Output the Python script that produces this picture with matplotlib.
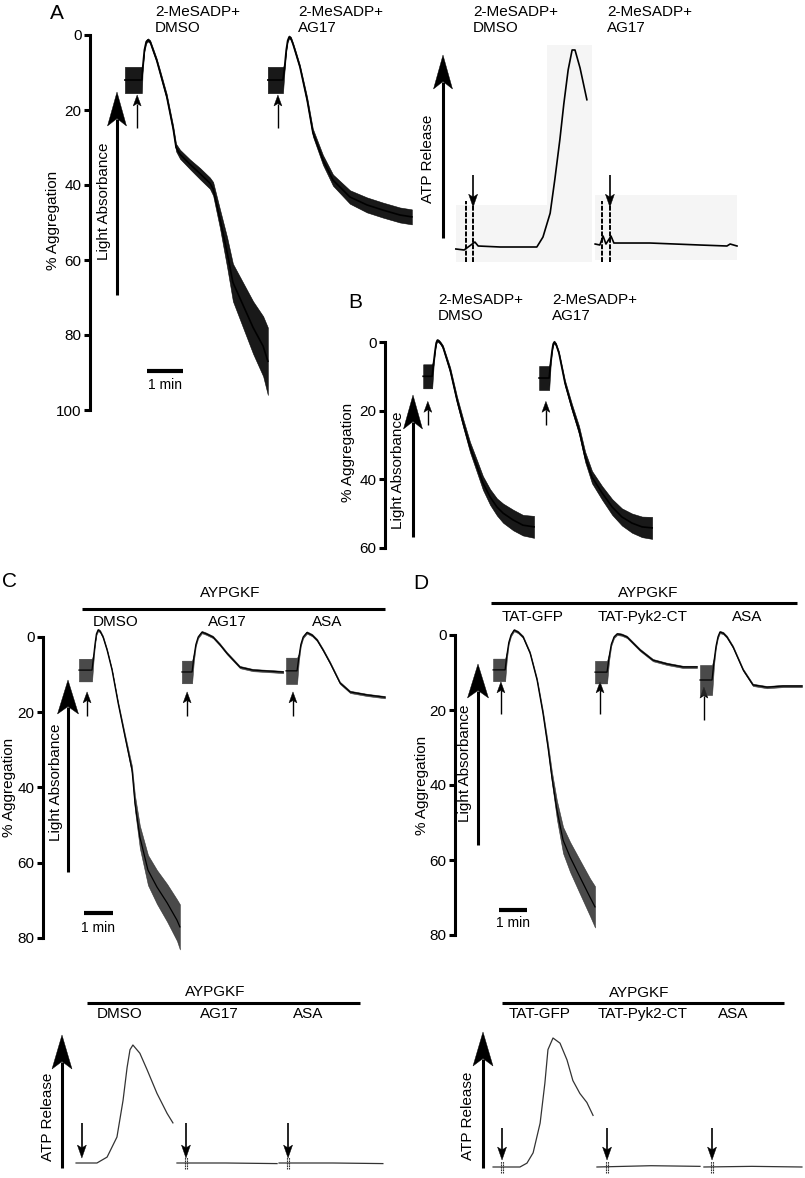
import numpy as np
import matplotlib
matplotlib.use("Agg")
import matplotlib.pyplot as plt
from matplotlib.patches import Polygon, Rectangle

plt.rcParams["font.family"] = ["Liberation Sans", "DejaVu Sans"]

W, H = 805, 1178
FS = 11

# ---------------- aggregation traces: time (min), % aggregation, noise half width ----------------
a_dmso_t = [0.97, 1.19, 1.44, 1.46, 1.51, 1.56, 1.61, 1.67, 1.75, 1.85, 1.94, 2.13, 2.31, 2.39,
            2.50, 2.78, 3.06, 3.33, 3.42, 3.61, 3.81, 3.97, 4.25, 4.53, 4.81, 4.94]
a_dmso_y = [12, 12, 12, 9, 4, 1.8, 1.3, 1.8, 4, 6.7, 9.8, 16.4, 25, 30, 31.8, 34.5, 37, 39.5,
            41, 49, 58, 66, 72, 78, 83, 87]
a_dmso_n = [3.5, 3.5, 3.5, 1.0, 0.5, 0.4, 0.4, 0.4, 0.5, 0.5, 0.6, 0.7, 0.8, 1.0, 1.2, 1.3, 1.5,
            1.5, 1.8, 2.5, 4, 5, 6, 7, 8, 9]
a_ag17_t = [4.94, 5.15, 5.36, 5.40, 5.45, 5.49, 5.53, 5.58, 5.64, 5.72, 5.83, 6.03, 6.19, 6.47,
            6.75, 7.22, 7.69, 8.14, 8.61, 8.94]
a_ag17_y = [12, 12, 12, 9, 4, 1.5, 0.5, 0.9, 2.5, 5, 8.5, 17.3, 26, 33.3, 38.7, 43.2, 45.3,
            46.7, 48, 48.5]
a_ag17_n = [3.5, 3.5, 3.5, 1.0, 0.5, 0.4, 0.4, 0.4, 0.4, 0.5, 0.5, 0.8, 1.0, 1.3, 1.5, 1.8, 2.0,
            2.0, 2.0, 2.0]
a_add = [1.31, 5.22]

b_dmso_t = [1.06, 1.19, 1.31, 1.35, 1.39, 1.42, 1.45, 1.50, 1.56, 1.61, 1.81, 2.0, 2.17, 2.36,
            2.56, 2.72, 2.92, 3.11, 3.28, 3.56, 3.83, 4.14]
b_dmso_y = [10, 10, 10, 6, 2.5, 0.3, -0.5, -0.2, 0.6, 1.5, 8.2, 16.9, 23.6, 30.6, 36.4, 41.1,
            45.2, 48.1, 49.9, 51.9, 53.4, 53.9]
b_dmso_n = [3.5, 3.5, 3.5, 1, 0.5, 0.4, 0.4, 0.4, 0.4, 0.5, 0.8, 1.0, 1.2, 1.5, 1.8, 2.0, 2.3,
            2.5, 2.8, 3.0, 3.0, 3.2]
b_ag17_t = [4.28, 4.42, 4.56, 4.60, 4.64, 4.67, 4.70, 4.75, 4.83, 5.0, 5.19, 5.39, 5.56, 5.75,
            6.03, 6.31, 6.58, 6.86, 7.14, 7.42]
b_ag17_y = [10.5, 10.5, 10.5, 6, 2.5, 0.6, 0, 0.7, 3.2, 12, 19, 25.7, 33.5, 39.4, 44, 48.1, 51,
            52.8, 53.9, 54.2]
b_ag17_n = [3.5, 3.5, 3.5, 1, 0.5, 0.4, 0.4, 0.4, 0.5, 0.8, 1.0, 1.2, 1.5, 1.8, 2.0, 2.3, 2.5,
            2.8, 3.0, 3.2]
b_add = [1.19, 4.47]

c_dmso_t = [1.24, 1.45, 1.69, 1.74, 1.79, 1.84, 1.90, 1.97, 2.07, 2.21, 2.38, 2.59, 2.83, 3.07,
            3.17, 3.34, 3.62, 3.93, 4.28, 4.62, 4.72]
c_dmso_y = [8.8, 8.8, 8.8, 5.5, 2, -0.8, -1.9, -1.5, 0, 3.5, 8.8, 17.6, 26.6, 35.4, 44.1, 53.2,
            62, 66.5, 70.7, 75.3, 77.1]
c_dmso_n = [3, 3, 3, 1, 0.4, 0.3, 0.3, 0.3, 0.3, 0.3, 0.3, 0.4, 0.6, 1.0, 2.0, 3.0, 4.0, 4.5,
            5, 5.5, 6]
c_ag17_t = [4.79, 4.97, 5.14, 5.20, 5.27, 5.35, 5.48, 5.62, 5.86, 6.10, 6.34, 6.79, 7.24, 8.28]
c_ag17_y = [9.3, 9.3, 9.3, 5.5, 2, 0, -1.3, -0.9, 0, 2.0, 4.3, 8, 8.8, 9.3]
c_ag17_n = [3, 3, 3, 1, 0.4, 0.3, 0.3, 0.3, 0.3, 0.3, 0.3, 0.3, 0.3, 0.3]
c_asa_t = [8.38, 8.57, 8.76, 8.82, 8.89, 8.97, 9.10, 9.28, 9.45, 9.66, 9.90, 10.24, 10.59,
           11.17, 11.79]
c_asa_y = [9, 9, 9, 5.5, 2, 0, -1.2, -0.5, 0.8, 3.5, 6.9, 12.2, 14.6, 15.4, 16]
c_asa_n = [3.5, 3.5, 3.5, 1, 0.4, 0.3, 0.3, 0.3, 0.3, 0.3, 0.3, 0.3, 0.3, 0.3, 0.3]
c_add = [1.52, 4.97, 8.62]

d_gfp_t = [1.36, 1.57, 1.79, 1.85, 1.92, 2.0, 2.11, 2.25, 2.43, 2.68, 2.93, 3.14, 3.32, 3.46,
           3.64, 3.86, 4.11, 4.46, 4.82, 5.0]
d_gfp_y = [9.3, 9.3, 9.3, 5.5, 2, 0, -1.3, -0.8, 0.5, 4.8, 12, 20.8, 29.9, 37.9, 46.7, 54.7,
           59.2, 64.5, 69.9, 72.5]
d_gfp_n = [3, 3, 3, 1, 0.4, 0.3, 0.3, 0.3, 0.3, 0.3, 0.4, 0.6, 1.0, 1.5, 2.5, 3.5, 4, 4.5, 5, 5.5]
d_pyk_t = [5.0, 5.21, 5.43, 5.50, 5.58, 5.68, 5.79, 5.95, 6.14, 6.61, 7.07, 7.57, 8.14, 8.64]
d_pyk_y = [9.9, 9.9, 9.9, 6, 2.5, 0.5, -0.3, -0.1, 0.5, 4, 6.7, 7.7, 8.5, 8.5]
d_pyk_n = [3, 3, 3, 1, 0.4, 0.3, 0.3, 0.3, 0.3, 0.3, 0.3, 0.3, 0.3, 0.3]
d_asa_t = [8.75, 8.96, 9.18, 9.25, 9.32, 9.39, 9.46, 9.58, 9.71, 9.93, 10.29, 10.64, 11.14,
           11.71, 12.39]
d_asa_y = [12, 12, 12, 7, 3, 0.5, -0.8, -0.5, 0.5, 3.2, 9.3, 13.3, 13.9, 13.6, 13.6]
d_asa_n = [4, 4, 4, 1, 0.4, 0.3, 0.3, 0.3, 0.3, 0.3, 0.3, 0.3, 0.3, 0.3, 0.3]
d_add = [1.64, 5.18, 8.89]

# ---------------- ATP release traces: time (min), release (a.u., peak = 100) ----------------
a_atp_dmso_t = [0.44, 0.67, 0.97, 1.06, 1.67, 2.69, 2.86, 3.06, 3.19, 3.33, 3.44, 3.56, 3.67,
                3.75, 3.89, 4.08]
a_atp_dmso_y = [-1, -1.5, 2.5, 0.5, 0, 0, 5, 17, 34, 54, 72, 89, 99, 99, 90, 74]
a_atp_ag17_t = [4.31, 4.44, 4.53, 4.61, 4.75, 4.83, 5.83, 7.22, 7.97, 8.06, 8.25]
a_atp_ag17_y = [1.5, 1, 5.5, 1.5, 5.5, 2, 2, 1, 0.5, 1.5, 0.5]
a_atp_spikes = [0.72, 0.92, 4.50, 4.72]
a_atp_add = [0.92, 4.72]

c_atp_dmso_t = [1.14, 1.86, 2.21, 2.55, 2.76, 2.90, 3.0, 3.10, 3.34, 3.59, 3.93, 4.28, 4.48]
c_atp_dmso_y = [0, 0, 5, 22, 53, 81, 96, 100, 93, 79, 59, 42, 34]
c_atp_ag17_t = [4.62, 6.3, 8.07]
c_atp_ag17_y = [0, 0, -0.5]
c_atp_asa_t = [8.14, 10.0, 11.72]
c_atp_asa_y = [0, 0, -0.5]
c_atp_add = [1.34, 4.93, 8.45]

d_atp_gfp_t = [1.36, 2.32, 2.57, 2.79, 3.04, 3.21, 3.32, 3.5, 3.75, 4.0, 4.21, 4.46, 4.71, 4.93]
d_atp_gfp_y = [0, 0, 3, 11, 34, 65, 91, 100, 96, 83, 67, 57, 50, 40]
d_atp_pyk_t = [5.07, 7.0, 8.75]
d_atp_pyk_y = [0, 1, 0.5]
d_atp_asa_t = [8.89, 10.6, 12.39]
d_atp_asa_y = [0, 0.5, 0]
d_atp_add = [1.68, 5.43, 9.18]


fig = plt.figure(figsize=(W / 100, H / 100), dpi=100)
ov = fig.add_axes([0, 0, 1, 1], zorder=0)
ov.set_xlim(0, W)
ov.set_ylim(H, 0)
ov.axis("off")


def make_panel(box, x0, y0, sx, sy, down=True):
    l, t, r, b = box
    ax = fig.add_axes([l / W, 1 - b / H, (r - l) / W, (b - t) / H], zorder=1)
    ax.patch.set_alpha(0)
    ax.set_xlim((l - x0) / sx, (r - x0) / sx)
    if down:
        ax.set_ylim((b - y0) / sy, (t - y0) / sy)
    else:
        ax.set_ylim((y0 - b) / sy, (y0 - t) / sy)
    return dict(ax=ax, x0=x0, y0=y0, sx=sx, sy=sy, down=down)


def to_px(p, t, v):
    x = p["x0"] + p["sx"] * t
    y = p["y0"] + p["sy"] * v if p["down"] else p["y0"] - p["sy"] * v
    return x, y


def agg_axis(p, ymax):
    ax = p["ax"]
    for s in ["top", "right", "bottom"]:
        ax.spines[s].set_visible(False)
    ax.spines["left"].set_position(("data", 0))
    ax.spines["left"].set_bounds(0, ymax)
    ax.spines["left"].set_linewidth(2.2)
    ax.spines["left"].set_capstyle("projecting")
    ax.set_xticks([])
    ax.set_yticks(range(0, ymax + 1, 20))
    ax.tick_params(axis="y", length=4.5, width=2.2, pad=1.5, labelsize=FS)


def trace(p, t, y, n, lw=1.0, band="k", alpha=0.9):
    t, y, n = np.array(t), np.array(y), np.array(n)
    p["ax"].fill_between(t, y - n, y + n, color=band, alpha=alpha, lw=0.4, clip_on=False)
    p["ax"].plot(t, y, color="k", lw=lw, clip_on=False)


def arrow(x, y_tail, y_tip, hl, hw, lw):
    d = np.sign(y_tip - y_tail)
    base = y_tip - d * hl
    notch = y_tip - d * hl * 0.78
    ov.plot([x, x], [y_tail, notch], color="k", lw=lw, solid_capstyle="butt")
    ov.add_patch(Polygon([(x, y_tip), (x - hw / 2, base), (x, notch), (x + hw / 2, base)],
                         closed=True, fc="k", ec="k", lw=0.3))


def add_arrows(p, times, tail, tip, hl=11, hw=8, lw=1.0):
    for t in times:
        x, yt = to_px(p, t, tip)
        _, yb = to_px(p, t, tail)
        arrow(x, yb, yt, hl, hw, lw)


def scale_bar(p, t0, v, lx, ly):
    p["ax"].plot([t0, t0 + 1], [v, v], color="k", lw=3, solid_capstyle="butt", clip_on=False)
    ov.text(lx, ly, "1 min", fontsize=10, ha="center", va="center")


def txt(x, y, s, **kw):
    kw.setdefault("fontsize", FS)
    ov.text(x, y, s, **kw)


# ---------------- panel A: aggregation ----------------
pA = make_panel((30, 20, 420, 420), 90, 35, 36, 3.75)
agg_axis(pA, 100)
trace(pA, a_dmso_t, a_dmso_y, a_dmso_n, lw=1.2)
trace(pA, a_ag17_t, a_ag17_y, a_ag17_n, lw=1.2)
add_arrows(pA, a_add, 24.8, 16)
scale_bar(pA, 1.58, 89.6, 165, 385)
arrow(117, 295, 92, 34, 19, 2.2)
txt(50, 4, "A", fontsize=15, va="top")
txt(155, 5, "2-MeSADP+\nDMSO", va="top", linespacing=1.15)
txt(298, 5, "2-MeSADP+\nAG17", va="top", linespacing=1.15)
txt(53, 220, "% Aggregation", rotation=90, ha="center", va="center")
txt(104, 201, "Light Absorbance", rotation=90, ha="center", va="center")

# ---------------- panel A: ATP release ----------------
for r in [(456, 205, 136, 57), (547, 45, 45, 160), (595, 195, 142, 65)]:
    ov.add_patch(Rectangle(r[:2], r[2], r[3], fc="#f5f5f5", ec="none"))
pAa = make_panel((420, 40, 800, 270), 440, 247, 36, 1.99, down=False)
pAa["ax"].axis("off")
pAa["ax"].plot(a_atp_dmso_t, a_atp_dmso_y, color="k", lw=1.2, clip_on=False)
pAa["ax"].plot(a_atp_ag17_t, a_atp_ag17_y, color="k", lw=1.2, clip_on=False)
for t in a_atp_spikes:
    pAa["ax"].plot([t, t], [-7.5, 23], color="k", lw=1.4, ls=(0, (2.5, 0.8)), clip_on=False)
add_arrows(pAa, a_atp_add, 36, 20, hl=13, hw=9, lw=1.2)
arrow(443, 238, 55, 34, 19, 2.2)
txt(473, 5, "2-MeSADP+\nDMSO", va="top", linespacing=1.15)
txt(607, 5, "2-MeSADP+\nAG17", va="top", linespacing=1.15)
txt(428, 159, "ATP Release", rotation=90, ha="center", va="center")

# ---------------- panel B ----------------
pB = make_panel((330, 290, 660, 560), 385, 342, 36, 3.43)
agg_axis(pB, 60)
trace(pB, b_dmso_t, b_dmso_y, b_dmso_n, lw=1.2)
trace(pB, b_ag17_t, b_ag17_y, b_ag17_n, lw=1.2)
add_arrows(pB, b_add, 24.2, 17.3)
arrow(413, 537, 395, 34, 19, 2.2)
txt(348, 293, "B", fontsize=15, va="top")
txt(438, 293, "2-MeSADP+\nDMSO", va="top", linespacing=1.15)
txt(552, 293, "2-MeSADP+\nAG17", va="top", linespacing=1.15)
txt(348, 452, "% Aggregation", rotation=90, ha="center", va="center")
txt(398, 470, "Light Absorbance", rotation=90, ha="center", va="center")

# ---------------- panel C ----------------
pC = make_panel((0, 620, 400, 960), 43, 637, 29, 3.76)
agg_axis(pC, 80)
trace(pC, c_dmso_t, c_dmso_y, c_dmso_n, lw=0.9, band="#2a2a2a", alpha=0.85)
trace(pC, c_ag17_t, c_ag17_y, c_ag17_n, lw=0.9, band="#2a2a2a", alpha=0.85)
trace(pC, c_asa_t, c_asa_y, c_asa_n, lw=0.9, band="#2a2a2a", alpha=0.85)
add_arrows(pC, c_add, 21.0, 14.6)
scale_bar(pC, (84 - 43) / 29, (913 - 637) / 3.76, 98, 928)
arrow(68, 872, 680, 34, 21, 2.2)
txt(2, 572, "C", fontsize=15, va="top")
txt(230, 593, "AYPGKF", ha="center", va="center")
ov.plot([82, 385], [609, 609], color="k", lw=2.2, solid_capstyle="butt")
for x, s in [(116, "DMSO"), (227, "AG17"), (327, "ASA")]:
    txt(x, 622, s, ha="center", va="center")
txt(9, 787, "% Aggregation", rotation=90, ha="center", va="center")
txt(56, 782, "Light Absorbance", rotation=90, ha="center", va="center")

# ---------------- panel D ----------------
pD = make_panel((400, 620, 805, 960), 455, 635, 28, 3.75)
agg_axis(pD, 80)
trace(pD, d_gfp_t, d_gfp_y, d_gfp_n, lw=0.9, band="#2a2a2a", alpha=0.85)
trace(pD, d_pyk_t, d_pyk_y, d_pyk_n, lw=0.9, band="#2a2a2a", alpha=0.85)
trace(pD, d_asa_t, d_asa_y, d_asa_n, lw=0.9, band="#2a2a2a", alpha=0.85)
add_arrows(pD, d_add[:2], 21.1, 12.5)
add_arrows(pD, d_add[2:], 22.7, 13.9)
scale_bar(pD, (499 - 455) / 28, (910 - 635) / 3.75, 513, 923)
arrow(478, 845, 664, 34, 21, 2.2)
txt(413, 574, "D", fontsize=15, va="top")
txt(648, 593, "AYPGKF", ha="center", va="center")
ov.plot([491, 797], [603, 603], color="k", lw=2.2, solid_capstyle="butt")
for x, s in [(533, "TAT-GFP"), (643, "TAT-Pyk2-CT"), (747, "ASA")]:
    txt(x, 617, s, ha="center", va="center")
txt(422, 785, "% Aggregation", rotation=90, ha="center", va="center")
txt(465, 763, "Light Absorbance", rotation=90, ha="center", va="center")

# ---------------- panel C: ATP release ----------------
pCa = make_panel((0, 1020, 400, 1178), 43, 1163, 29, 1.18, down=False)
pCa["ax"].axis("off")
for t, y in [(c_atp_dmso_t, c_atp_dmso_y), (c_atp_ag17_t, c_atp_ag17_y), (c_atp_asa_t, c_atp_asa_y)]:
    pCa["ax"].plot(t, y, color="#333333", lw=0.9, clip_on=False)
for t in c_atp_add[1:]:
    for dt in (-0.03, 0.03):
        pCa["ax"].plot([t + dt, t + dt], [-5, 5], color="#333333", lw=0.8, ls=(0, (1.5, 0.7)), clip_on=False)
add_arrows(pCa, c_atp_add, 34, 4.2, hl=13, hw=9, lw=1.2)
arrow(62, 1168, 1035, 34, 20, 2.2)
txt(215, 992, "AYPGKF", ha="center", va="center")
ov.plot([87, 360], [1003, 1003], color="k", lw=2.2, solid_capstyle="butt")
for x, s in [(120, "DMSO"), (219, "AG17"), (308, "ASA")]:
    txt(x, 1014, s, ha="center", va="center")
txt(48, 1117, "ATP Release", rotation=90, ha="center", va="center")

# ---------------- panel D: ATP release ----------------
pDa = make_panel((400, 1020, 805, 1178), 455, 1167, 28, 1.29, down=False)
pDa["ax"].axis("off")
for t, y in [(d_atp_gfp_t, d_atp_gfp_y), (d_atp_pyk_t, d_atp_pyk_y), (d_atp_asa_t, d_atp_asa_y)]:
    pDa["ax"].plot(t, y, color="#333333", lw=0.9, clip_on=False)
for t in d_atp_add:
    for dt in (-0.03, 0.03):
        pDa["ax"].plot([t + dt, t + dt], [-5, 5], color="#333333", lw=0.8, ls=(0, (1.5, 0.7)), clip_on=False)
add_arrows(pDa, d_atp_add, 30, 5.4, hl=13, hw=9, lw=1.2)
arrow(483, 1168, 1032, 34, 20, 2.2)
txt(639, 993, "AYPGKF", ha="center", va="center")
ov.plot([502, 784], [1003, 1003], color="k", lw=2.2, solid_capstyle="butt")
for x, s in [(540, "TAT-GFP"), (643, "TAT-Pyk2-CT"), (733, "ASA")]:
    txt(x, 1014, s, ha="center", va="center")
txt(468, 1116, "ATP Release", rotation=90, ha="center", va="center")

fig.savefig("out.png", dpi=100)
